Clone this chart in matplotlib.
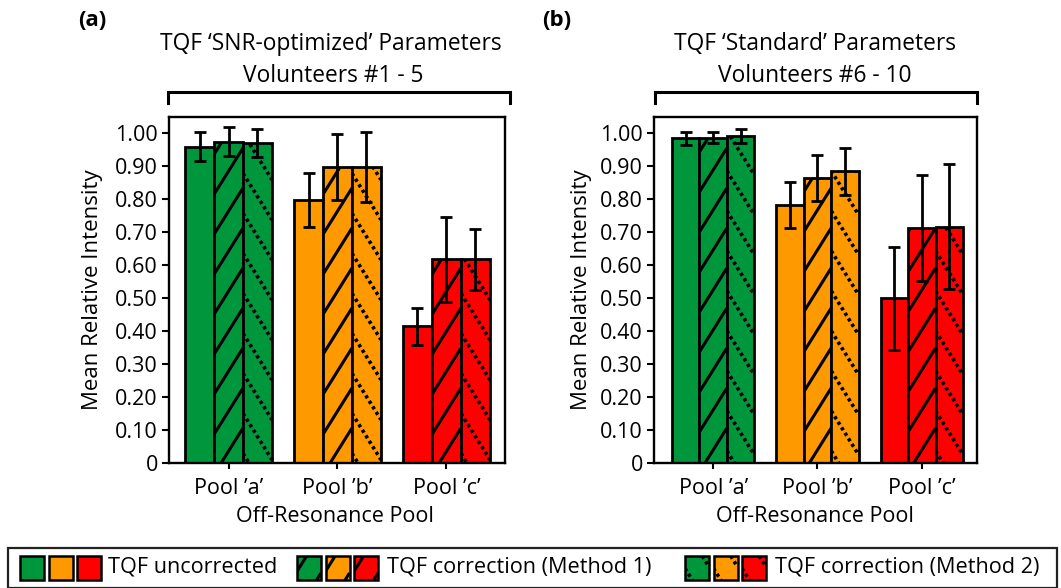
import matplotlib
matplotlib.use("Agg")
import matplotlib.pyplot as plt
from matplotlib.lines import Line2D
from matplotlib.patches import Rectangle

plt.rcParams['font.family'] = ['Open Sans', 'DejaVu Sans']

pools = ["Pool ’a’", "Pool ’b’", "Pool ’c’"]
pool_colors = ["#00963C", "#FF9900", "#FF0000"]
method_names = ["TQF uncorrected", "TQF correction (Method 1)", "TQF correction (Method 2)"]

# volunteers #1-5, SNR-optimized parameters
snr_uncorr = [0.960, 0.797, 0.415]
snr_m1 = [0.975, 0.898, 0.618]
snr_m2 = [0.972, 0.898, 0.618]
snr_uncorr_err = [0.043, 0.082, 0.056]
snr_m1_err = [0.044, 0.100, 0.128]
snr_m2_err = [0.043, 0.105, 0.092]

# volunteers #6-10, standard parameters
std_uncorr = [0.985, 0.782, 0.500]
std_m1 = [0.987, 0.866, 0.713]
std_m2 = [0.992, 0.885, 0.717]
std_uncorr_err = [0.020, 0.070, 0.157]
std_m1_err = [0.016, 0.070, 0.160]
std_m2_err = [0.022, 0.072, 0.190]

yticks = [0, 0.1, 0.2, 0.3, 0.4, 0.5, 0.6, 0.7, 0.8, 0.9, 1.0]
ytick_labels = ["0", "0.10", "0.20", "0.30", "0.40", "0.50", "0.60", "0.70", "0.80", "0.90", "1.00"]

W, H = 1061, 588
fig = plt.figure(figsize=(W / 100, H / 100), dpi=100)

HATCH_STEP = 40   # px between hatch lines
HATCH_SLOPE = 1.6
FS = 16


def hatch_rect(ax, rect, kind, phase):
    """Sparse steep hatch lines drawn in pixel space, clipped to the rect."""
    x0, y0 = rect.get_x(), rect.get_y()
    x1, y1 = x0 + rect.get_width(), y0 + rect.get_height()
    (px0, py0), (px1, py1) = ax.transData.transform([(x0, y0), (x1, y1)])
    px0, px1 = min(px0, px1), max(px0, px1)
    py0, py1 = min(py0, py1), max(py0, py1)
    wpx = px1 - px0
    inv = ax.transData.inverted()
    sgn = 1 if kind == "/" else -1
    c = py0 - HATCH_SLOPE * wpx - HATCH_STEP + phase
    while c < py1 + HATCH_SLOPE * wpx + HATCH_STEP:
        pts = inv.transform([(px0, c), (px1, c + sgn * HATCH_SLOPE * wpx)])
        if kind == "/":
            ln = Line2D(pts[:, 0], pts[:, 1], color="black", lw=2.2,
                        solid_capstyle="butt", zorder=rect.get_zorder() + 0.1)
        else:
            ln = Line2D(pts[:, 0], pts[:, 1], color="black", lw=2.6,
                        linestyle=(0, (0.9, 0.9)), dash_capstyle="butt",
                        zorder=rect.get_zorder() + 0.1)
        ax.add_line(ln)
        ln.set_clip_path(rect)
        c += HATCH_STEP


def panel(rect_pos, xlim, width, series, errs, ylabelpad):
    ax = fig.add_axes(rect_pos)
    ax.set_xlim(*xlim)
    ax.set_ylim(0, 1.05)
    kinds = [None, "/", "\\"]
    phases = [0, 35, 16]
    for j, (vals, err) in enumerate(zip(series, errs)):
        for i, (v, e) in enumerate(zip(vals, err)):
            xc = i + (j - 1) * width
            bar = ax.bar(xc, v, width, color=pool_colors[i], edgecolor="black",
                         linewidth=2.0, zorder=2)[0]
            if kinds[j]:
                hatch_rect(ax, bar, kinds[j], phases[j])
            ax.errorbar(xc, v, yerr=e, fmt="none", ecolor="black", elinewidth=2.0,
                        capsize=4.5, capthick=2.0, zorder=4)
    for s in ax.spines.values():
        s.set_linewidth(1.7)
    ax.set_yticks(yticks)
    ax.set_yticklabels(ytick_labels)
    ax.set_xticks(range(len(pools)))
    ax.set_xticklabels(pools)
    ax.tick_params(axis="y", direction="out", length=5, width=1.5, pad=3, labelsize=15.5)
    ax.tick_params(axis="x", direction="out", length=4, width=1.5, pad=6.5, labelsize=15.5)
    ax.set_ylabel("Mean Relative Intensity", fontsize=FS, labelpad=ylabelpad)
    return ax


def fig_box(x0, y0, x1, y1):
    # pixel box (top-left origin) -> figure fraction
    return [x0 / W, 1 - y1 / H, (x1 - x0) / W, (y1 - y0) / H]


ax_a = panel(fig_box(169, 117, 505, 463), (-0.546, 2.537), 0.266,
             [snr_uncorr, snr_m1, snr_m2], [snr_uncorr_err, snr_m1_err, snr_m2_err], 9)
ax_b = panel(fig_box(654, 117, 977, 463), (-0.567, 2.529), 0.263,
             [std_uncorr, std_m1, std_m2], [std_uncorr_err, std_m1_err, std_m2_err], 6)

# overlay in pixel coordinates for headers, brackets, x labels and the legend strip
ov = fig.add_axes([0, 0, 1, 1])
ov.set_xlim(0, W)
ov.set_ylim(H, 0)
ov.axis("off")

ov.text(78, 20, "(a)", fontsize=FS, fontweight="bold", va="center", ha="left")
ov.text(542, 20, "(b)", fontsize=FS, fontweight="bold", va="center", ha="left")
ov.text(331, 44, "TQF ‘SNR-optimized’ Parameters", fontsize=16.4, ha="center", va="center")
ov.text(333, 76, "Volunteers #1 - 5", fontsize=16.4, ha="center", va="center")
ov.text(815, 44, "TQF ‘Standard’ Parameters", fontsize=16.4, ha="center", va="center")
ov.text(815, 76, "Volunteers #6 - 10", fontsize=16.4, ha="center", va="center")
ov.text(335, 517, "Off-Resonance Pool", fontsize=15.5, ha="center", va="center")
ov.text(815, 517, "Off-Resonance Pool", fontsize=15.5, ha="center", va="center")

for bx0, bx1 in [(168, 510), (655, 977)]:
    ov.plot([bx0, bx0, bx1, bx1], [103, 92, 92, 103], color="black", lw=2.2,
            solid_joinstyle="miter")

# legend strip
ov.add_patch(Rectangle((8, 548), 1049, 40, fill=False, edgecolor="#222222", lw=1.6))
legend_groups = [(20, 108), (297, 387), (685, 775)]
for j, (sx, tx) in enumerate(legend_groups):
    for i, col in enumerate(pool_colors):
        sq = Rectangle((sx + i * 28.5, 556), 24, 24, facecolor=col,
                       edgecolor="black", lw=1.8, zorder=2)
        ov.add_patch(sq)
        if j == 1:
            hatch_rect(ov, sq, "/", 7)
        elif j == 2:
            hatch_rect(ov, sq, "\\", 10)
    ov.text(tx, 567, method_names[j], fontsize=15.6, ha="left", va="center")

fig.savefig("out.png", dpi=100)
